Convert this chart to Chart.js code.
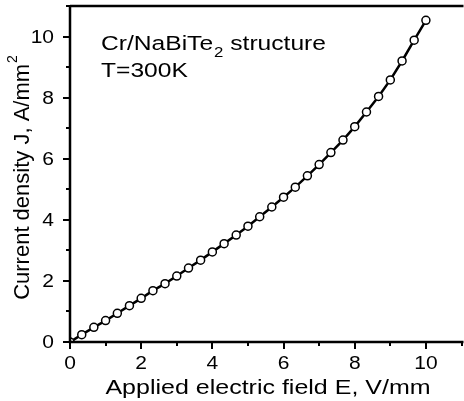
<!DOCTYPE html>
<html>
<head>
<meta charset="utf-8">
<script src="https://cdn.jsdelivr.net/npm/chart.js@4"></script>
<style>
  html, body { margin: 0; padding: 0; background: #fff; overflow: hidden; }
  #wrap { width: 464px; height: 401px; overflow: hidden; }
</style>
</head>
<body>
<div id="wrap"><canvas id="ivChart" width="467" height="401"></canvas></div>
<script>
// applied field E (V/mm) and current density J (A/mm^2)
const fieldE = [
  0, 0.33, 0.67, 1, 1.33, 1.67, 2, 2.33, 2.67, 3, 3.33,
  3.67, 4, 4.33, 4.67, 5, 5.33, 5.67, 6, 6.33, 6.67,
  7, 7.33, 7.67, 8, 8.33, 8.67, 9, 9.33, 9.67, 10
];
const currentJ = [
  0, 0.24, 0.48, 0.70, 0.94, 1.19, 1.43, 1.68, 1.91, 2.16, 2.42,
  2.68, 2.95, 3.22, 3.50, 3.79, 4.10, 4.42, 4.74, 5.07, 5.44,
  5.81, 6.20, 6.61, 7.05, 7.53, 8.04, 8.58, 9.20, 9.88, 10.53
];
const xTickLabels = [0, 2, 4, 6, 8, 10];
const yTickLabels = [0, 2, 4, 6, 8, 10];

const FONT = "Liberation Sans, Arial, sans-serif";

// the scanned figure has its text stretched sideways; mimic with a scale
function wideText(ctx, str, x, y, size, sx, align) {
  ctx.save();
  ctx.font = size + "px " + FONT;
  const w = ctx.measureText(str).width * sx;
  let x0 = x;
  if (align === "center") x0 = x - w / 2;
  if (align === "right") x0 = x - w;
  ctx.translate(x0, y);
  ctx.scale(sx, 1);
  ctx.textAlign = "left";
  ctx.fillText(str, 0, 0);
  ctx.restore();
  return w;
}

// axis frame, major/minor ticks, tick labels and titles
const framePlugin = {
  id: "frame",
  afterDraw(chart) {
    const { ctx, chartArea: a, scales: { x, y } } = chart;
    ctx.save();
    ctx.strokeStyle = "#000";
    ctx.lineWidth = 2.5;
    ctx.beginPath();
    ctx.moveTo(a.left, a.top);
    ctx.lineTo(a.right + 2, a.top);
    ctx.moveTo(a.left, a.top);
    ctx.lineTo(a.left, a.bottom);
    ctx.lineTo(a.right + 2, a.bottom);
    ctx.stroke();

    ctx.lineWidth = 2;
    for (let v = 0; v <= 11; v++) {
      const len = v % 2 === 0 ? 7 : 4;
      const px = Math.round(x.getPixelForValue(v));
      ctx.beginPath();
      ctx.moveTo(px, a.bottom);
      ctx.lineTo(px, a.bottom + len);
      ctx.stroke();
      const py = Math.round(y.getPixelForValue(v));
      ctx.beginPath();
      ctx.moveTo(a.left, py);
      ctx.lineTo(a.left - len, py);
      ctx.stroke();
    }

    ctx.fillStyle = "#000";
    ctx.textBaseline = "alphabetic";

    // tick labels
    xTickLabels.forEach(v => {
      wideText(ctx, String(v), x.getPixelForValue(v), a.bottom + 27, 17.5, 1.2, "center");
    });
    yTickLabels.forEach(v => {
      wideText(ctx, String(v), a.left - 16, y.getPixelForValue(v) + 6, 17.5, 1.2, "right");
    });

    // annotation
    let cx = 101;
    cx += wideText(ctx, "Cr/NaBiTe", cx, 50, 20.5, 1.2, "left");
    cx += wideText(ctx, "2", cx + 1, 57, 14, 1.2, "left") + 1;
    wideText(ctx, " structure", cx, 50, 20.5, 1.2, "left");
    wideText(ctx, "T=300K", 101, 77, 20.5, 1.2, "left");

    // x title
    wideText(ctx, "Applied electric field E, V/mm", 268, 394, 20, 1.25, "center");

    // y title, rotated
    ctx.translate(29, 178);
    ctx.rotate(-Math.PI / 2);
    ctx.textAlign = "left";
    ctx.font = "22px " + FONT;
    const yt = "Current density J, A/mm";
    const w = ctx.measureText(yt).width;
    ctx.font = "14px " + FONT;
    const sw = ctx.measureText("2").width;
    const start = -(w + sw) / 2;
    ctx.font = "22px " + FONT;
    ctx.fillText(yt, start, 0);
    ctx.font = "14px " + FONT;
    ctx.fillText("2", start + w + 1, -12);
    ctx.restore();
  }
};

new Chart(document.getElementById("ivChart"), {
  type: "scatter",
  data: {
    datasets: [{
      data: fieldE.map((e, i) => ({ x: e, y: currentJ[i] })),
      showLine: true,
      borderColor: "#000",
      borderWidth: 2.5,
      pointRadius: 4,
      pointBorderWidth: 1.5,
      pointBackgroundColor: "#fff",
      pointBorderColor: "#000",
      tension: 0
    }]
  },
  options: {
    responsive: false,
    animation: false,
    layout: { padding: { top: 6, right: 0, left: 0, bottom: 0 } },
    plugins: { legend: { display: false }, tooltip: { enabled: false } },
    scales: {
      x: {
        type: "linear",
        min: 0,
        max: 11,
        grid: { display: false, drawTicks: false },
        border: { display: false },
        ticks: { display: false },
        afterFit(scale) { scale.height = 59; }
      },
      y: {
        type: "linear",
        min: 0,
        max: 11,
        grid: { display: false, drawTicks: false },
        border: { display: false },
        ticks: { display: false },
        afterFit(scale) { scale.width = 70; }
      }
    }
  },
  plugins: [framePlugin]
});
</script>
</body>
</html>
